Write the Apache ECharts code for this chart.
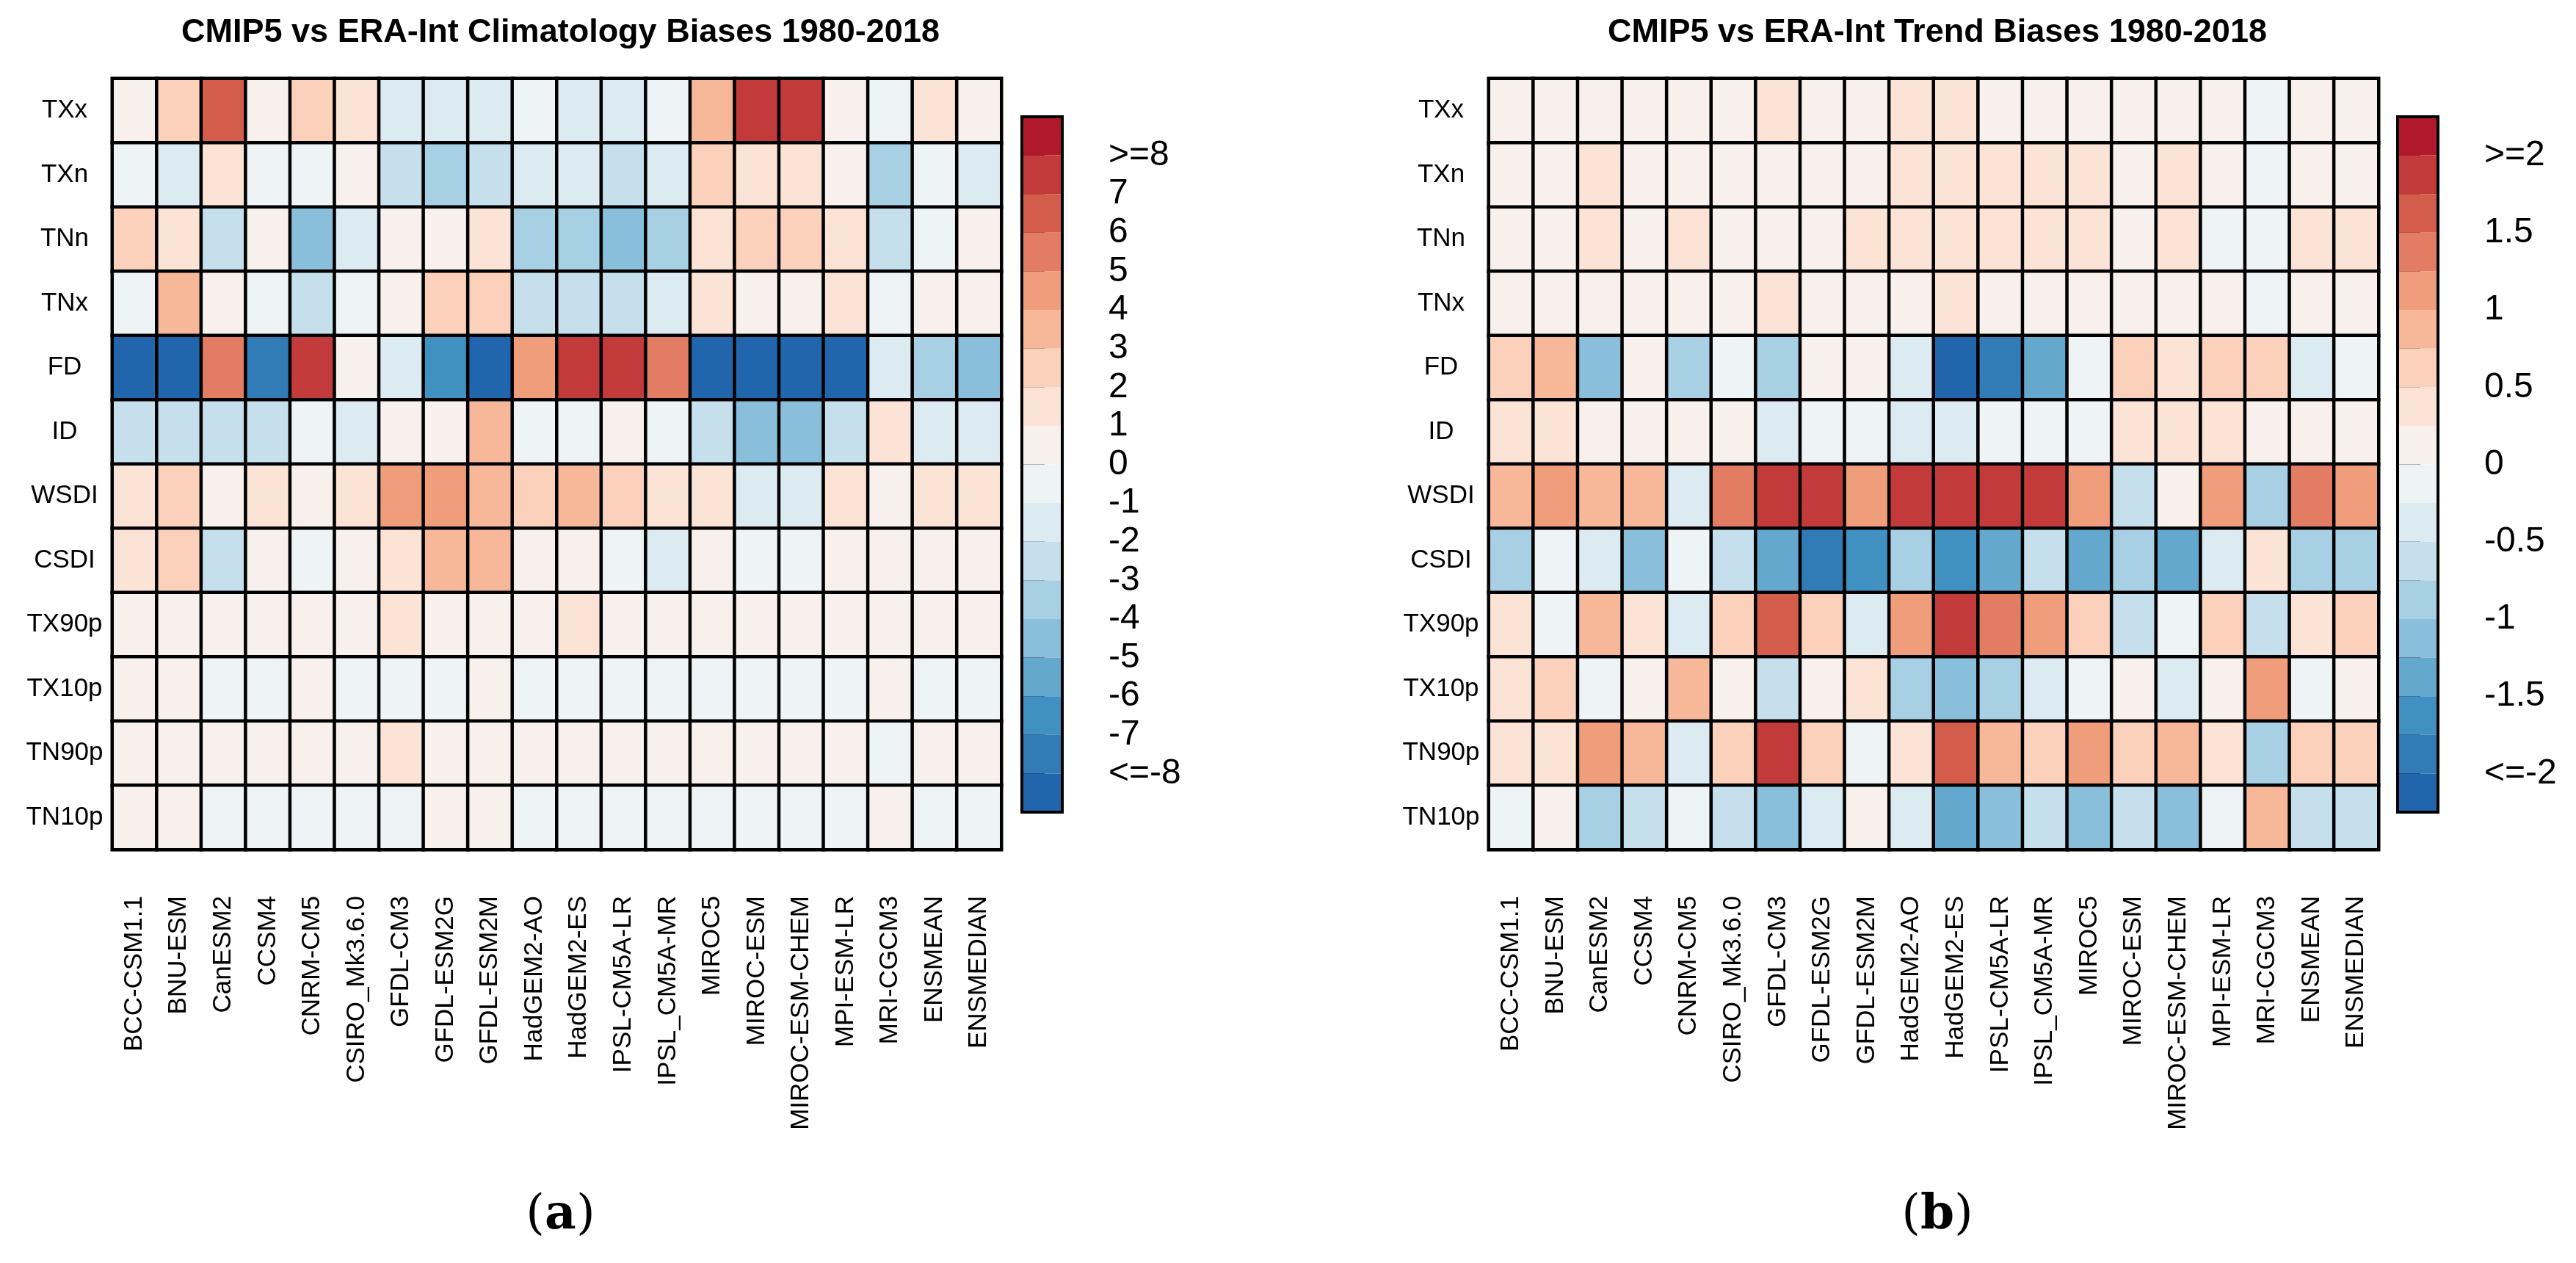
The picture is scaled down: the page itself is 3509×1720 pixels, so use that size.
<!DOCTYPE html>
<html>
<head>
<meta charset="utf-8">
<script src="https://cdn.jsdelivr.net/npm/echarts@6/dist/echarts.min.js"></script>
<style>html,body{margin:0;padding:0;background:#fff;}#c{width:3509px;height:1720px;}</style>
</head>
<body>
<div id="c"></div>
<script>
// ---------------- DATA ----------------
const models = ['BCC-CSM1.1','BNU-ESM','CanESM2','CCSM4','CNRM-CM5','CSIRO_Mk3.6.0','GFDL-CM3','GFDL-ESM2G','GFDL-ESM2M','HadGEM2-AO','HadGEM2-ES','IPSL-CM5A-LR','IPSL_CM5A-MR','MIROC5','MIROC-ESM','MIROC-ESM-CHEM','MPI-ESM-LR','MRI-CGCM3','ENSMEAN','ENSMEDIAN'];
const indices = ['TXx','TXn','TNn','TNx','FD','ID','WSDI','CSDI','TX90p','TX10p','TN90p','TN10p'];

// Climatology biases (rows = indices, columns = models)
const climBias = [
  [0.5, 2.5, 6.5, 0.5, 2.5, 1.5, -1.5, -1.5, -1.5, -0.5, -1.5, -1.5, -0.5, 3.5, 7.5, 7.5, 0.5, -0.5, 1.5, 0.5],
  [-0.5, -1.5, 1.5, -0.5, -0.5, 0.5, -2.5, -3.5, -2.5, -1.5, -1.5, -2.5, -1.5, 2.5, 1.5, 1.5, 0.5, -3.5, -0.5, -1.5],
  [2.5, 1.5, -2.5, 0.5, -4.5, -1.5, 0.5, 0.5, 1.5, -3.5, -3.5, -4.5, -3.5, 1.5, 2.5, 2.5, 1.5, -2.5, -0.5, 0.5],
  [-0.5, 3.5, 0.5, -0.5, -2.5, -0.5, 0.5, 2.5, 2.5, -2.5, -2.5, -2.5, -1.5, 1.5, 0.5, 0.5, 1.5, -0.5, 0.5, 0.5],
  [-9.5, -9.5, 5.5, -7.5, 7.5, 0.5, -1.5, -6.5, -9.5, 4.5, 7.5, 7.5, 5.5, -9.5, -9.5, -9.5, -9.5, -1.5, -3.5, -4.5],
  [-2.5, -2.5, -2.5, -2.5, -0.5, -1.5, 0.5, 0.5, 3.5, -0.5, -0.5, 0.5, -0.5, -2.5, -4.5, -4.5, -2.5, 1.5, -1.5, -1.5],
  [1.5, 2.5, 0.5, 1.5, 0.5, 1.5, 4.5, 4.5, 3.5, 2.5, 3.5, 2.5, 1.5, 1.5, -1.5, -1.5, 1.5, 0.5, 1.5, 1.5],
  [1.5, 2.5, -2.5, 0.5, -0.5, 0.5, 1.5, 3.5, 3.5, 0.5, 0.5, -0.5, -1.5, 0.5, -0.5, -0.5, 0.5, 0.5, 0.5, 0.5],
  [0.5, 0.5, 0.5, 0.5, 0.5, 0.5, 1.5, 0.5, 0.5, 0.5, 1.5, 0.5, 0.5, 0.5, 0.5, 0.5, 0.5, 0.5, 0.5, 0.5],
  [0.5, 0.5, -0.5, -0.5, 0.5, -0.5, -0.5, -0.5, 0.5, -0.5, -0.5, -0.5, -0.5, -0.5, -0.5, -0.5, -0.5, 0.5, -0.5, -0.5],
  [0.5, 0.5, 0.5, 0.5, 0.5, 0.5, 1.5, 0.5, 0.5, 0.5, 0.5, 0.5, 0.5, 0.5, 0.5, 0.5, 0.5, -0.5, 0.5, 0.5],
  [0.5, 0.5, -0.5, -0.5, -0.5, -0.5, -0.5, 0.5, 0.5, -0.5, -0.5, -0.5, -0.5, -0.5, -0.5, -0.5, -0.5, 0.5, -0.5, -0.5]
];

// Trend biases (rows = indices, columns = models)
const trendBias = [
  [0.1, 0.1, 0.1, 0.1, 0.1, 0.1, 0.4, 0.1, 0.1, 0.4, 0.4, 0.1, 0.1, 0.1, 0.1, 0.1, 0.1, -0.1, 0.1, 0.1],
  [0.1, 0.1, 0.4, 0.1, 0.1, 0.1, 0.1, 0.1, 0.1, 0.4, 0.4, 0.4, 0.4, 0.4, 0.1, 0.4, 0.1, -0.1, 0.1, 0.1],
  [0.1, 0.1, 0.4, 0.1, 0.4, 0.1, 0.1, 0.1, 0.4, 0.4, 0.4, 0.4, 0.4, 0.4, 0.1, 0.4, -0.1, -0.1, 0.4, 0.4],
  [0.1, 0.1, 0.1, 0.1, 0.1, 0.1, 0.4, 0.1, 0.1, 0.1, 0.4, 0.1, 0.1, 0.1, 0.1, 0.1, 0.1, -0.1, 0.1, 0.1],
  [0.6, 0.9, -1.1, 0.1, -0.9, -0.1, -0.9, 0.1, 0.1, -0.4, -2.2, -1.9, -1.4, -0.1, 0.6, 0.4, 0.6, 0.6, -0.4, -0.1],
  [0.4, 0.4, 0.1, 0.1, 0.1, 0.1, -0.4, -0.1, -0.1, -0.4, -0.4, -0.1, -0.1, -0.1, 0.4, 0.4, 0.4, 0.1, 0.1, 0.1],
  [0.9, 1.1, 0.9, 0.9, -0.4, 1.4, 1.9, 1.9, 1.1, 1.9, 1.9, 1.9, 1.9, 1.1, -0.6, 0.1, 1.1, -0.9, 1.4, 1.1],
  [-0.9, -0.1, -0.4, -1.1, -0.1, -0.6, -1.4, -1.9, -1.6, -0.9, -1.6, -1.4, -0.6, -1.4, -0.9, -1.4, -0.4, 0.4, -0.9, -0.9],
  [0.4, -0.1, 0.9, 0.4, -0.4, 0.6, 1.6, 0.6, -0.4, 1.1, 1.9, 1.4, 1.1, 0.6, -0.6, -0.1, 0.6, -0.6, 0.4, 0.6],
  [0.4, 0.6, -0.1, 0.1, 0.9, 0.1, -0.6, 0.1, 0.4, -0.9, -1.1, -0.9, -0.4, -0.1, 0.1, -0.4, 0.1, 1.1, -0.1, 0.1],
  [0.4, 0.4, 1.1, 0.9, -0.4, 0.6, 1.9, 0.6, -0.1, 0.4, 1.6, 0.9, 0.6, 1.1, 0.6, 0.9, 0.4, -0.9, 0.6, 0.6],
  [-0.1, 0.1, -0.9, -0.6, -0.1, -0.6, -1.1, -0.4, 0.1, -0.4, -1.4, -1.1, -0.6, -1.1, -0.6, -1.1, -0.1, 0.9, -0.6, -0.6]
];

// Colour class boundaries and colour-bar tick labels
const climBreaks = [8, 7, 6, 5, 4, 3, 2, 1, 0, -1, -2, -3, -4, -5, -6, -7, -8];
const climTickLabels = ['>=8','7','6','5','4','3','2','1','0','-1','-2','-3','-4','-5','-6','-7','<=-8'];
const climRange = [-9, 9];
const trendBreaks = [2, 1.75, 1.5, 1.25, 1, 0.75, 0.5, 0.25, 0, -0.25, -0.5, -0.75, -1, -1.25, -1.5, -1.75, -2];
const trendTickLabels = ['>=2','','1.5','','1','','0.5','','0','','-0.5','','-1','','-1.5','','<=-2'];
const trendRange = [-2.25, 2.25];

const titles = ['CMIP5 vs ERA-Int Climatology Biases 1980-2018', 'CMIP5 vs ERA-Int Trend Biases 1980-2018'];
const captions = ['a', 'b'];

// ---------------- STYLE ----------------
const palette = ['#B2182B','#C33A3B','#D45C4B','#E27C63','#F09D7C','#F7B89A','#FBD1BB','#FBE3D5','#F8F0EC',
                 '#EEF3F5','#DCEAF2','#C6DFED','#A8D0E4','#89BFDB','#64A8CE','#4190C2','#317BB7','#2166AC'];
const SANS = 'Liberation Sans, Arial, Helvetica, sans-serif';
const SERIF = 'DejaVu Serif, Liberation Serif, serif';

function pieces(breaks) {
  const out = [];
  for (let k = 0; k < palette.length; k++) {
    const p = { color: palette[k] };
    if (k > 0) p.lt = breaks[k - 1];
    if (k < breaks.length) p.gte = breaks[k];
    out.push(p);
  }
  return out;
}
function segments(breaks, range) {
  const out = [];
  for (let k = 0; k < palette.length; k++) {
    const hi = k === 0 ? range[1] : breaks[k - 1];
    const lo = k === breaks.length ? range[0] : breaks[k];
    out.push([lo, hi, k]);
  }
  return out;
}
function heatData(rows) {
  const d = [];
  rows.forEach((row, yi) => row.forEach((v, xi) => d.push([xi, yi, v])));
  return d;
}
function tickFormatter(breaks, labels) {
  return function (v) {
    const i = breaks.findIndex(b => Math.abs(b - v) < 1e-9);
    return i >= 0 ? labels[i] : '';
  };
}
function segRender(params, api) {
  const lo = api.value(0), hi = api.value(1), k = api.value(2);
  const p1 = api.coord([0, hi]);
  const p2 = api.coord([1, lo]);
  return { type: 'rect', shape: { x: p1[0], y: p1[1], width: p2[0] - p1[0], height: p2[1] - p1[1] },
           style: { fill: palette[k] } };
}
function frameRender(params, api) {
  const p1 = api.coord([0, api.value(1)]);
  const p2 = api.coord([1, api.value(0)]);
  return { type: 'rect', shape: { x: p1[0], y: p1[1], width: p2[0] - p1[0], height: p2[1] - p1[1] },
           style: { fill: 'none', stroke: '#000', lineWidth: 4 } };
}

const heatGrids = [
  { left: 153, top: 107, width: 1211, height: 1050 },
  { left: 2028, top: 107, width: 1212, height: 1050 }
];
const barGrids = [
  { left: 1392, top: 159, width: 55, height: 947, show: false },
  { left: 3266, top: 159, width: 55, height: 947, show: false }
];

const chart = echarts.init(document.getElementById('c'), null, { renderer: 'canvas', devicePixelRatio: 1 });

const xAxes = [], yAxes = [], series = [];
[0, 1].forEach(p => {
  xAxes.push({
    type: 'category', gridIndex: p, data: models, position: 'bottom',
    axisLine: { show: false }, axisTick: { show: false }, splitLine: { show: false },
    axisLabel: { rotate: 90, interval: 0, margin: 63, fontSize: 35, color: '#000', fontFamily: SANS }
  });
  yAxes.push({
    type: 'category', gridIndex: p, data: indices, inverse: true,
    axisLine: { show: false }, axisTick: { show: false }, splitLine: { show: false },
    axisLabel: { interval: 0, margin: 65, align: 'center', fontSize: 35, color: '#000', fontFamily: SANS }
  });
});
[0, 1].forEach(p => {
  const breaks = p === 0 ? climBreaks : trendBreaks;
  const labels = p === 0 ? climTickLabels : trendTickLabels;
  const range = p === 0 ? climRange : trendRange;
  xAxes.push({ type: 'value', gridIndex: 2 + p, min: 0, max: 1, show: false });
  yAxes.push({
    type: 'value', gridIndex: 2 + p, min: range[0], max: range[1], interval: p === 0 ? 1 : 0.25,
    position: 'right', splitLine: { show: false }, axisLine: { show: false },
    axisTick: { show: true, length: 31, lineStyle: { color: '#000', width: 3 } },
    axisLabel: { margin: 63, fontSize: 48, color: '#000', fontFamily: SANS, formatter: tickFormatter(breaks, labels),
                 showMinLabel: true, showMaxLabel: true }
  });
});

series.push({ type: 'heatmap', xAxisIndex: 0, yAxisIndex: 0, data: heatData(climBias),
  itemStyle: { borderColor: '#000', borderWidth: 4.5 }, emphasis: { disabled: true }, progressive: 0 });
series.push({ type: 'heatmap', xAxisIndex: 1, yAxisIndex: 1, data: heatData(trendBias),
  itemStyle: { borderColor: '#000', borderWidth: 4.5 }, emphasis: { disabled: true }, progressive: 0 });
series.push({ type: 'custom', xAxisIndex: 2, yAxisIndex: 2, renderItem: segRender, data: segments(climBreaks, climRange), z: 2 });
series.push({ type: 'custom', xAxisIndex: 3, yAxisIndex: 3, renderItem: segRender, data: segments(trendBreaks, trendRange), z: 2 });
series.push({ type: 'custom', xAxisIndex: 2, yAxisIndex: 2, renderItem: frameRender, data: [climRange], z: 3 });
series.push({ type: 'custom', xAxisIndex: 3, yAxisIndex: 3, renderItem: frameRender, data: [trendRange], z: 3 });

const titleOpts = [];
[0, 1].forEach(p => {
  const cx = heatGrids[p].left + heatGrids[p].width / 2;
  titleOpts.push({ text: titles[p], left: cx, top: 17, textAlign: 'center',
    textStyle: { fontSize: 45, fontWeight: 'bold', color: '#000', fontFamily: SANS } });
  titleOpts.push({ text: '{n|(}{b|' + captions[p] + '}{n|)}', left: cx, top: 1618, textAlign: 'center',
    textStyle: { fontWeight: 'normal', rich: {
      n: { fontSize: 66, fontWeight: 'normal', color: '#000', fontFamily: SERIF },
      b: { fontSize: 66, fontWeight: 'bold', color: '#000', fontFamily: SERIF }
    } } });
});

chart.setOption({
  animation: false,
  backgroundColor: '#fff',
  title: titleOpts,
  grid: heatGrids.concat(barGrids),
  xAxis: xAxes,
  yAxis: yAxes,
  visualMap: [
    { type: 'piecewise', show: false, seriesIndex: 0, dimension: 2, pieces: pieces(climBreaks) },
    { type: 'piecewise', show: false, seriesIndex: 1, dimension: 2, pieces: pieces(trendBreaks) }
  ],
  series: series
});
</script>
</body>
</html>
